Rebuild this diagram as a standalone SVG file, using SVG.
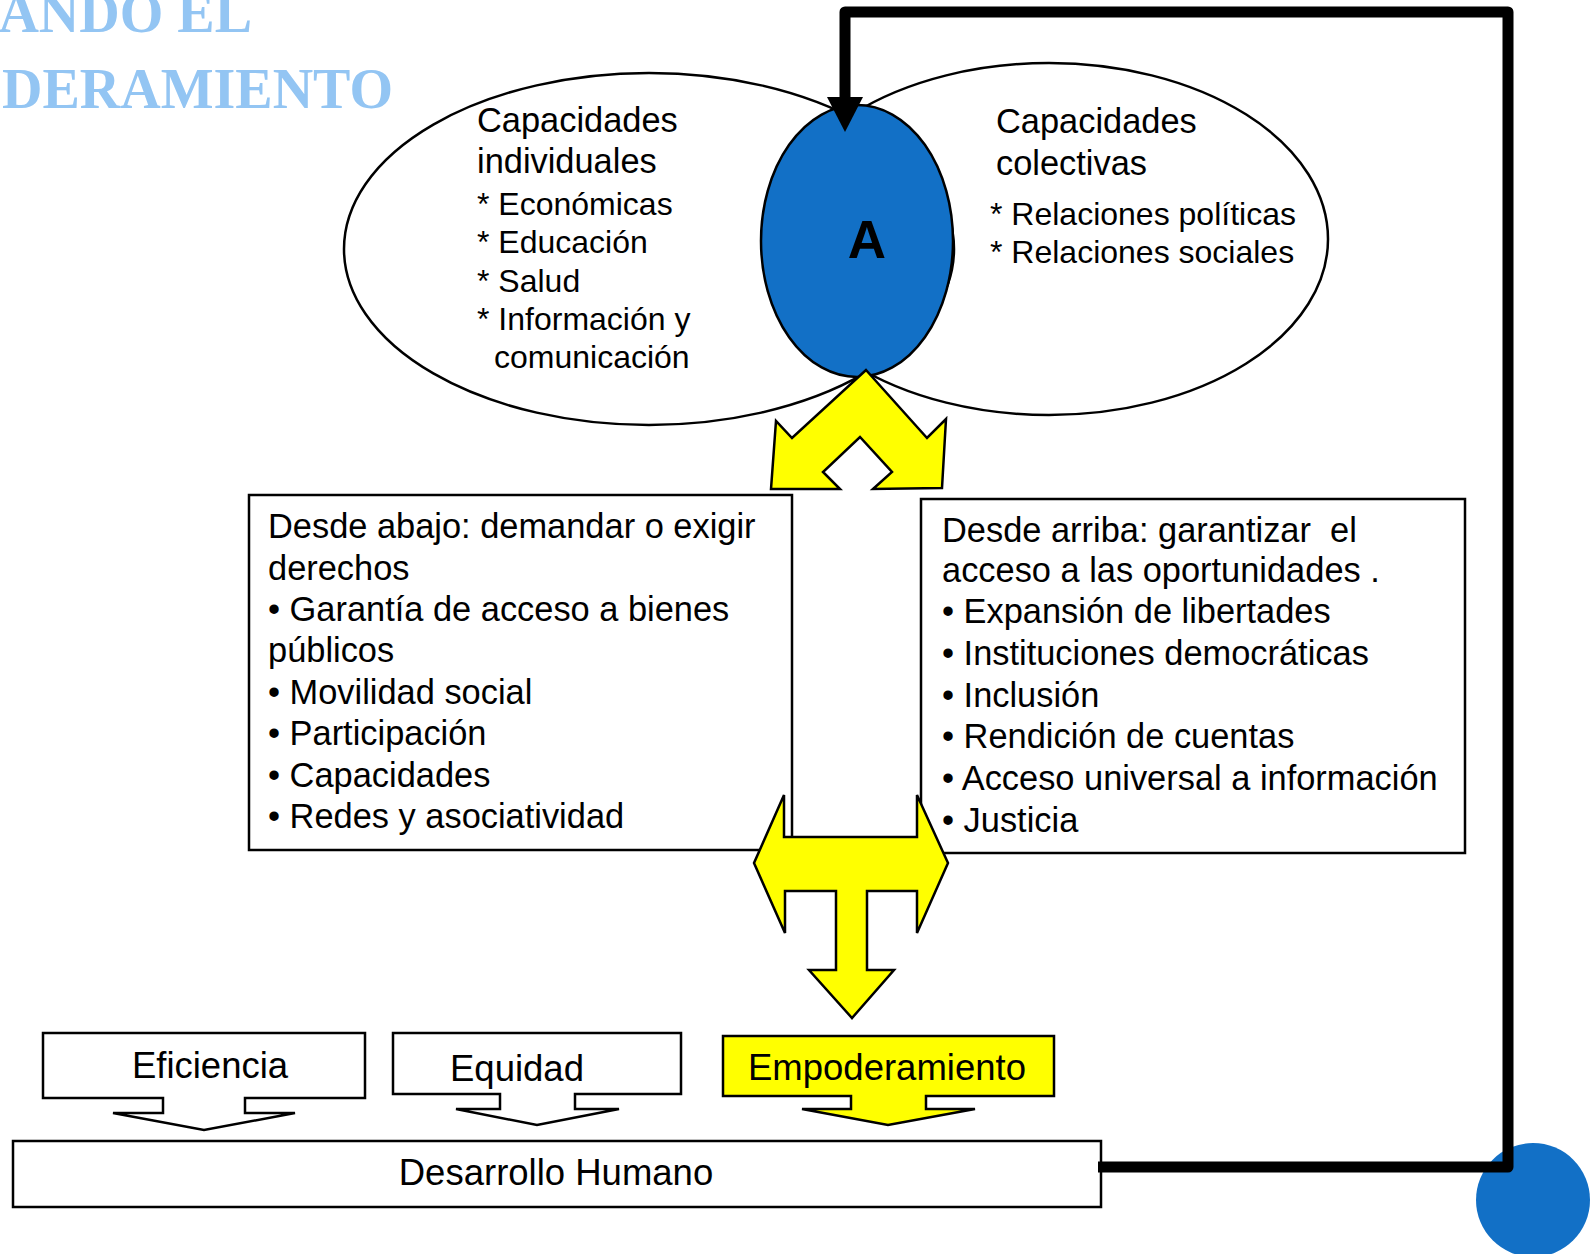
<svg xmlns="http://www.w3.org/2000/svg" width="1590" height="1254" viewBox="0 0 1590 1254">
<style>
.t{font-family:"Liberation Sans",Arial,sans-serif;fill:#000;white-space:pre}
.bx{font-size:34.4px}
.it{font-size:32px}
.lb{font-size:36.5px}
.ttl{font-family:"Liberation Serif","Times New Roman",serif;font-weight:bold;font-size:56px;fill:#93C5F3}
.ln{fill:none;stroke:#000;stroke-width:2.5}
.box{fill:#fff;stroke:#000;stroke-width:2.5}
.yel{fill:#FFFF00;stroke:#000;stroke-width:2.5;stroke-linejoin:miter}
</style>
<defs>
<marker id="ah" markerUnits="userSpaceOnUse" markerWidth="36" markerHeight="36" viewBox="0 0 36 36" refX="0" refY="18" orient="auto">
<path d="M0,0 L35,18 L0,36 z" fill="#000"/>
</marker>
</defs>
<rect width="1590" height="1254" fill="#fff"/>

<g id="title">
<text class="ttl" x="252" y="32" text-anchor="end">ANDO EL</text>
<text class="ttl" x="393" y="108" text-anchor="end">DERAMIENTO</text>
</g>

<g id="corner-dot">
<circle cx="1533" cy="1200" r="57" fill="#1270C6"/>
</g>

<g id="individuales">
<ellipse class="ln" cx="649" cy="249" rx="305" ry="176"/>
<text class="t bx" x="477" y="132">Capacidades</text>
<text class="t bx" x="477" y="173">individuales</text>
<text class="t it" x="477" y="215">* Económicas</text>
<text class="t it" x="477" y="253">* Educación</text>
<text class="t it" x="477" y="292">* Salud</text>
<text class="t it" x="477" y="330">* Información y</text>
<text class="t it" x="494" y="368">comunicación</text>
</g>

<g id="colectivas">
<ellipse class="ln" cx="1049" cy="239" rx="279" ry="176"/>
<text class="t bx" x="996" y="133">Capacidades</text>
<text class="t bx" x="996" y="175">colectivas</text>
<text class="t it" x="990" y="225">* Relaciones políticas</text>
<text class="t it" x="990" y="263">* Relaciones sociales</text>
</g>

<g id="nodo-A">
<ellipse cx="857" cy="241" rx="96" ry="136" fill="#1270C6" stroke="#000" stroke-width="2.5"/>
<text x="867" y="258" text-anchor="middle" font-family="Liberation Sans,Arial,sans-serif" font-weight="bold" font-size="53">A</text>
</g>

<g id="desde-abajo">
<rect class="box" x="249" y="495" width="543" height="355"/>
<text class="t bx" x="268" y="538">Desde abajo: demandar o exigir</text>
<text class="t bx" x="268" y="580">derechos</text>
<text class="t bx" x="268" y="621">• Garantía de acceso a bienes</text>
<text class="t bx" x="268" y="662">públicos</text>
<text class="t bx" x="268" y="704">• Movilidad social</text>
<text class="t bx" x="268" y="745">• Participación</text>
<text class="t bx" x="268" y="787">• Capacidades</text>
<text class="t bx" x="268" y="828">• Redes y asociatividad</text>
</g>

<g id="desde-arriba">
<rect class="box" x="921" y="499" width="544" height="354"/>
<text class="t bx" x="942" y="542">Desde arriba: garantizar  el</text>
<text class="t bx" x="942" y="582">acceso a las oportunidades .</text>
<text class="t bx" x="942" y="623">• Expansión de libertades</text>
<text class="t bx" x="942" y="665">• Instituciones democráticas</text>
<text class="t bx" x="942" y="707">• Inclusión</text>
<text class="t bx" x="942" y="748">• Rendición de cuentas</text>
<text class="t bx" x="942" y="790">• Acceso universal a información</text>
<text class="t bx" x="942" y="832">• Justicia</text>
</g>

<g id="eficiencia">
<polygon class="box" points="43,1033 365,1033 365,1098 245,1098 245,1113 295,1113 204,1130 113,1113 163,1113 163,1098 43,1098"/>
<text class="t lb" x="210" y="1078" text-anchor="middle">Eficiencia</text>
</g>

<g id="equidad">
<polygon class="box" points="393,1033 681,1033 681,1094 575,1094 575,1109 619,1109 537,1125 456,1109 500,1109 500,1094 393,1094"/>
<text class="t lb" x="517" y="1081" text-anchor="middle">Equidad</text>
</g>

<g id="empoderamiento">
<polygon class="box" style="fill:#FFFF00" points="723,1036 1054,1036 1054,1096 926,1096 926,1109 975,1109 888,1125 802,1109 851,1109 851,1096 723,1096"/>
<text class="t lb" x="887" y="1080" text-anchor="middle">Empoderamiento</text>
</g>

<g id="desarrollo-humano">
<rect class="box" x="13" y="1141" width="1088" height="66"/>
<text class="t lb" x="556" y="1185" text-anchor="middle">Desarrollo Humano</text>
</g>

<g id="connectors">
<polygon class="yel" points="866,370 927,438 946,419 942,488 873,489 892,472 860,437 823,472 840,489 771,489 776,421 792,438"/>
<polygon class="yel" points="754,863 784,795 784,837 917,837 917,795 948,863 917,933 917,891 867,891 867,970 894,970 852,1018 809,970 836,970 836,891 785,891 785,933"/>
<path d="M1098,1167 H1508 V12 H845 V97" fill="none" stroke="#000" stroke-width="11" stroke-linejoin="round" marker-end="url(#ah)"/>
</g>
</svg>
